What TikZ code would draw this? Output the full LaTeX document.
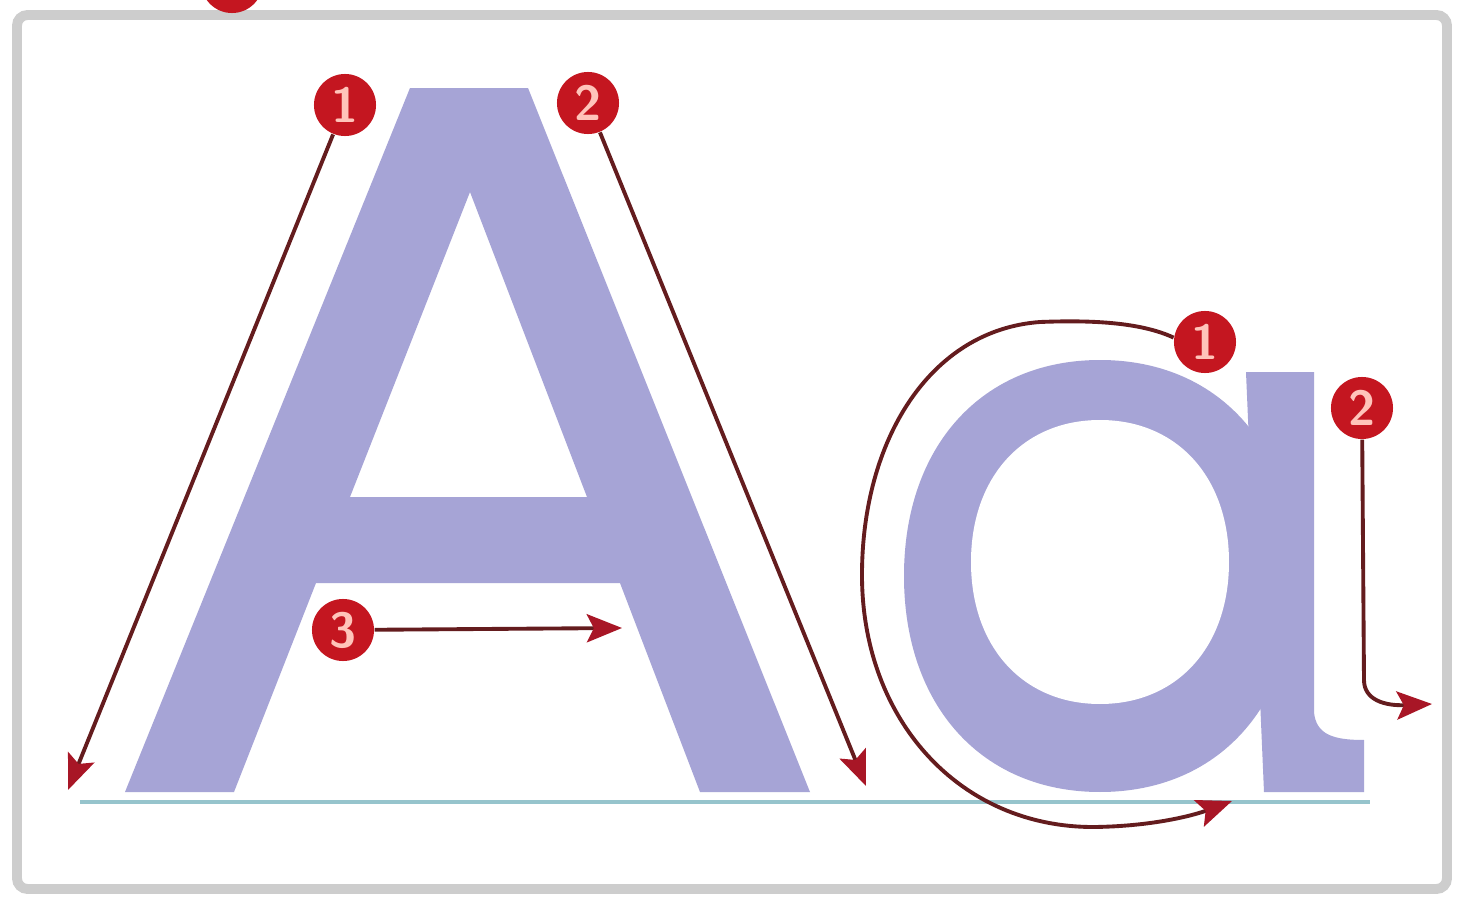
\documentclass[tikz,border=0pt]{standalone}
\usetikzlibrary{arrows.meta}

\definecolor{lettre}{RGB}{166,164,214}
\definecolor{cadre}{RGB}{205,205,205}
\definecolor{ligne}{RGB}{150,196,204}
\definecolor{pastille}{RGB}{196,22,32}
\definecolor{chiffre}{RGB}{255,196,186}
\definecolor{trait}{RGB}{100,28,30}
\definecolor{pointe}{RGB}{168,22,38}

\begin{document}
\begin{tikzpicture}[x=0.01cm,y=-0.01cm,
    pastille/.style={circle, fill=pastille, minimum size=0.62cm, inner sep=0pt,
      text=chiffre, font=\fontsize{14}{14}\selectfont\sffamily\bfseries},
    trace/.style={draw=trait, line width=1.1pt,
      -{Stealth[length=10pt,width=8pt,inset=2pt,fill=pointe,color=pointe]}}]
    \useasboundingbox (0,0) rectangle (1462,900);
    \clip (0,0) rectangle (1462,900);
    \fill[white] (0,0) rectangle (1462,900);

    % Cadre
    \draw[cadre, line width=2.8pt, rounded corners=3pt] (17,15) rectangle (1447,889);
    \node[pastille] (haut) at (232,-18) {};

    % Ligne de base
    \draw[ligne, line width=1.3pt] (80,802) -- (1370,802);

    % Lettre A
    \fill[lettre, even odd rule]
      (125,792) -- (410,88) -- (528,88) -- (810,792) -- (700,792) -- (620,583)
      -- (316,583) -- (234,792) -- cycle
      (470,192) -- (587,497) -- (350,497) -- cycle;

    % Lettre a
    \fill[lettre] (904,576) .. controls (904,446) and (982,360) .. (1100,360)
      .. controls (1218,360) and (1296,446) .. (1296,576)
      .. controls (1296,706) and (1218,792) .. (1100,792)
      .. controls (982,792) and (904,706) .. (904,576) -- cycle;
    \fill[lettre] (1246,372) -- (1314,372) -- (1314,712)
      .. controls (1316,735) and (1334,740) .. (1364,740) -- (1364,792)
      -- (1264,792) -- cycle;
    \fill[white] (971,562) .. controls (971,477) and (1023,420) .. (1100,420)
      .. controls (1177,420) and (1229,477) .. (1229,562)
      .. controls (1229,647) and (1177,704) .. (1100,704)
      .. controls (1023,704) and (971,647) .. (971,562) -- cycle;

    % Pastilles
    \node[pastille] (A1) at (345,105) {1};
    \node[pastille] (A2) at (588,103) {2};
    \node[pastille] (A3) at (343,630) {3};
    \node[pastille] (a1) at (1205,342) {1};
    \node[pastille] (a2) at (1362,408) {2};

    % Fins des traits
    \coordinate (A1fin) at (68,790);
    \coordinate (A2fin) at (866,786);
    \coordinate (A3fin) at (622,628);
    \coordinate (a1fin) at (1232,801);
    \coordinate (a2fin) at (1432,704);

    % Traits
    \draw[trace] (A1) -- (A1fin);
    \draw[trace] (A2) -- (A2fin);
    \draw[trace] (A3) -- (A3fin);
    \draw[trace] (a1.172) .. controls (1140,322) and (1090,320) .. (1040,322)
      .. controls (930,330) and (862,440) .. (862,575)
      .. controls (862,720) and (960,828) .. (1095,827)
      .. controls (1160,826) and (1200,813) .. (a1fin);
    \draw[trace] (a2) -- (1364,680) .. controls (1364,700) and (1385,706) .. (a2fin);
\end{tikzpicture}
\end{document}
